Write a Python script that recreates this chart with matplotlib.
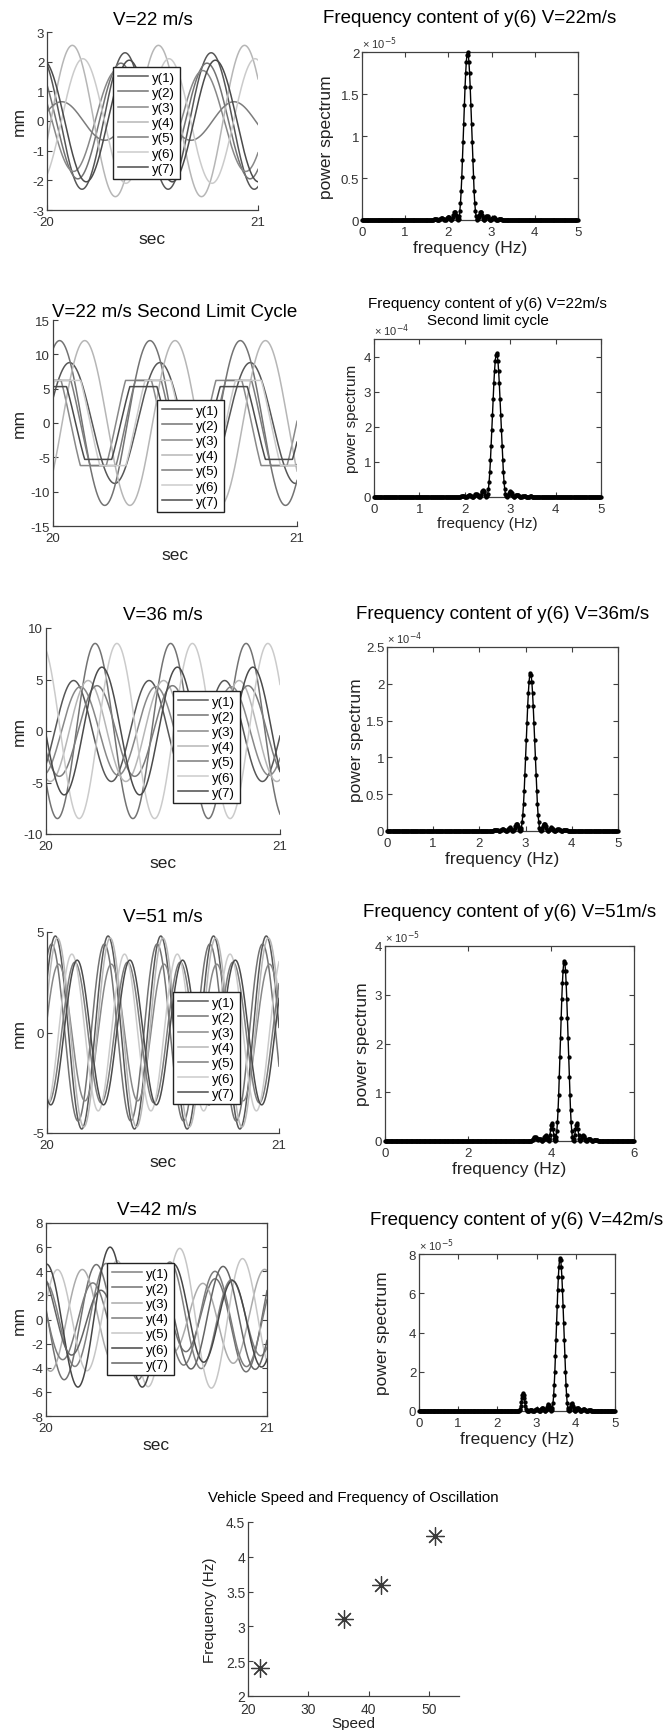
import numpy as np
import matplotlib
matplotlib.use("Agg")
import matplotlib.pyplot as plt
from matplotlib.ticker import FuncFormatter

plt.rcParams['font.family'] = ['Liberation Sans', 'DejaVu Sans']
plt.rcParams['axes.unicode_minus'] = False

W, H = 664, 1731

# ---- time histories y(1)..y(7), 20 s to 21 s ----
series_names = ['y(1)', 'y(2)', 'y(3)', 'y(4)', 'y(5)', 'y(6)', 'y(7)']
wave_titles = ['V=22 m/s', 'V=22 m/s Second Limit Cycle', 'V=36 m/s', 'V=51 m/s', 'V=42 m/s']
wave_freq = [2.45, 2.7, 3.1, 4.4, 3.6]          # Hz
wave_ylim = [3, 15, 10, 5, 8]
wave_yticks = [np.arange(-3, 4, 1), np.arange(-15, 16, 5), np.arange(-10, 11, 5),
               np.arange(-5, 6, 5), np.arange(-8, 9, 2)]

# amplitude (mm) and time of first peak (s) for each response
amp_22 = [2.3, 1.95, 1.7, 2.55, 0.65, 2.1, 2.05]
tpk_22 = [20.37, 20.35, 20.33, 20.12, 20.07, 20.17, 20.39]
amp_22b = [8.8, 12.0, 10.0, 12.0, 10.0, 10.0, 9.0]
tpk_22b = [20.068, 20.027, 19.98, 20.13, 20.02, 20.06, 20.0]
clip_22b = [99, 99, 6.2, 99, 6.2, 6.2, 5.3]
amp_36 = [4.9, 8.5, 4.3, 4.9, 4.4, 8.5, 6.2]
tpk_36 = [20.118, 20.21, 20.147, 20.18, 20.218, 20.303, 20.239]
amp_51 = [4.8, 4.4, 3.4, 4.7, 3.5, 3.9, 3.6]
tpk_51 = [20.036, 20.02, 20.05, 20.045, 20.12, 20.107, 20.13]
# V=42 has a second component near 2.65 Hz
amp_42 = [4.0, 3.8, 3.5, 3.5, 5.0, 4.6, 3.4]
tpk_42 = [20.0, 20.22, 20.16, 20.21, 20.05, 20.29, 20.246]
amp_42b = [1.0, 1.2, 0.8, 0.5, 0.9, 1.4, 1.0]
tpk_42b = [20.6, 19.9, 20.2, 20.0, 20.6, 20.29, 20.8]
freq_42b = 2.65

grey_std = ['#575757', '#737373', '#888888', '#b6b6b6', '#7c7c7c', '#cbcbcb', '#4b4b4b']
grey_42 = ['#808080', '#727272', '#ababab', '#7c7c7c', '#c6c6c6', '#464646', '#646464']

# ---- power spectra of y(6) ----
spec_titles = ['Frequency content of y(6) V=22m/s',
               'Frequency content of y(6) V=22m/s\nSecond limit cycle',
               'Frequency content of y(6) V=36m/s',
               'Frequency content of y(6) V=51m/s',
               'Frequency content of y(6) V=42m/s']
df = 0.015                                       # frequency resolution, Hz
spec_xmax = [5, 5, 5, 6, 5]
spec_exp = [-5, -4, -4, -5, -5]
spec_ylim = [2.0, 4.5, 2.5, 4.0, 8.0]
spec_yticks = [[0, 0.5, 1, 1.5, 2], [0, 1, 2, 3, 4], [0, 0.5, 1, 1.5, 2, 2.5],
               [0, 1, 2, 3, 4], [0, 2, 4, 6, 8]]
spec_xticks = [[0, 1, 2, 3, 4, 5]] * 3 + [[0, 2, 4, 6], [0, 1, 2, 3, 4, 5]]
peak_f = [2.45, 2.70, 3.10, 4.32, 3.60]
peak_p = [2.0, 4.1, 2.15, 3.7, 7.8]
side_off = [0.30, 0.45, 0.60, 0.75]
side_left = [[0.10, 0.04, 0.025, 0.015], [0.20, 0.08, 0.05, 0.03], [0.10, 0.05, 0.03, 0.02],
             [0.37, 0.12, 0.05, 0.02], [0.35, 0.15, 0.10, 0.05]]
side_right = [[0.10, 0.05, 0.03, 0.015], [0.17, 0.07, 0.04, 0.02], [0.10, 0.05, 0.03, 0.02],
              [0.37, 0.12, 0.05, 0.03], [0.40, 0.15, 0.10, 0.05]]
extra_f = [0, 0, 0, 3.62, 2.65]
extra_p = [0, 0, 0, 0.08, 0.9]
lobe_half = [1.0, 0.985, 0.943, 0.875, 0.789, 0.684, 0.573, 0.463, 0.357, 0.255,
             0.171, 0.103, 0.055, 0.022, 0.005, 0.0]
bump_half = [1.0, 0.9, 0.65, 0.35, 0.1]
extra_half = [1.0, 0.93, 0.75, 0.5, 0.28, 0.12, 0.03, 0.0]

# ---- speed vs oscillation frequency ----
speed = [22, 36, 42, 51]
osc_freq = [2.4, 3.1, 3.6, 4.3]

# axes boxes in pixels: left, top, right, bottom
wave_boxes = [(47, 33, 258, 211), (53, 321, 297, 527), (46, 629, 280, 835),
              (47, 933, 279, 1134), (46, 1224, 267, 1417)]
wave_title_y = [25, 317, 620, 922, 1215]
legend_xy = [(113, 68), (157, 401), (173, 692), (173, 993), (107, 1264)]
spec_boxes = [(362, 53, 578, 221), (374, 340, 601, 498), (387, 648, 618, 832),
              (385, 947, 634, 1142), (419, 1255, 615, 1412)]
spec_title_y = [23, 308, 619, 917, 1225]
spec_ylab_x = [327, 352, 357, 362, 382]
scatter_box = (248, 1523, 459, 1697)

fig = plt.figure(figsize=(W / 100, H / 100), dpi=100)


def rect(box):
    l, t, r, b = box
    return [l / W, 1 - b / H, (r - l) / W, (b - t) / H]


def ftext(x, y, s, **kw):
    fig.text(x / W, 1 - y / H, s, **kw)


def style(ax, box_on):
    for side in ['top', 'right']:
        ax.spines[side].set_visible(box_on)
    for sp in ax.spines.values():
        sp.set_color('#404040')
        sp.set_linewidth(0.9)
    ax.tick_params(direction='in', length=3.5, width=0.8, color='#404040',
                   labelcolor='#333333', labelsize=9.5, pad=2,
                   top=box_on, right=box_on)
    ax.tick_params(axis='x', pad=4)
    ax.xaxis.set_major_formatter(FuncFormatter(lambda v, p: '%g' % v))
    ax.yaxis.set_major_formatter(FuncFormatter(lambda v, p: '%g' % v))


t = np.linspace(20, 21, 1201)
wave_sets = [(amp_22, tpk_22, None), (amp_22b, tpk_22b, clip_22b), (amp_36, tpk_36, None),
             (amp_51, tpk_51, None), (amp_42, tpk_42, None)]

for i, box in enumerate(wave_boxes):
    ax = fig.add_axes(rect(box))
    amps, tpks, clips = wave_sets[i]
    greys = grey_42 if i == 4 else grey_std
    for k in range(7):
        y = amps[k] * np.cos(2 * np.pi * wave_freq[i] * (t - tpks[k]))
        if i == 4:
            y = y + amp_42b[k] * np.cos(2 * np.pi * freq_42b * (t - tpk_42b[k]))
        if clips is not None:
            y = np.clip(y, -clips[k], clips[k])
        ax.plot(t, y, color=greys[k], lw=1.1, label=series_names[k])
    ax.set_xlim(20, 21)
    ax.set_ylim(-wave_ylim[i], wave_ylim[i])
    ax.set_xticks([20, 21])
    ax.set_yticks(wave_yticks[i])
    style(ax, i == 4)
    lx, ly = legend_xy[i]
    ax.legend(loc='upper left', bbox_to_anchor=(lx / W, 1 - ly / H),
              bbox_transform=fig.transFigure, borderaxespad=0, fontsize=9.5,
              labelspacing=0.22, handlelength=2.3, handletextpad=0.3,
              borderpad=0.35, fancybox=False, framealpha=1, edgecolor='#222222')
    l, tp, r, b = box
    cx = (l + r) / 2
    ftext(cx, wave_title_y[i], wave_titles[i], ha='center', va='baseline', fontsize=13.5)
    ftext(cx, b + 33, 'sec', ha='center', va='baseline', fontsize=12.5, color='#222222')
    ftext(19, (tp + b) / 2, 'mm', ha='center', va='center', rotation=90,
          fontsize=12.5, color='#222222')


def add_shape(p, center, height, half):
    c = int(round(center / df))
    for k, v in enumerate(half):
        for idx in (c - k, c + k):
            if 0 <= idx < len(p):
                p[idx] = max(p[idx], height * v)


for i, box in enumerate(spec_boxes):
    ax = fig.add_axes(rect(box))
    scale = 10.0 ** spec_exp[i]
    f = np.arange(0, spec_xmax[i] + df / 2, df)
    p = np.zeros_like(f)
    add_shape(p, peak_f[i], peak_p[i], lobe_half)
    for off, hl, hr in zip(side_off, side_left[i], side_right[i]):
        add_shape(p, peak_f[i] - off, hl, bump_half)
        add_shape(p, peak_f[i] + off, hr, bump_half)
    if extra_p[i] > 0:
        add_shape(p, extra_f[i], extra_p[i], extra_half)
    ax.plot(f, p * scale, color='black', lw=1.0, marker='.', ms=4.2, clip_on=False, zorder=3)
    ax.set_xlim(0, spec_xmax[i])
    ax.set_ylim(0, spec_ylim[i] * scale)
    ax.set_xticks(spec_xticks[i])
    ax.set_yticks(np.array(spec_yticks[i]) * scale)
    style(ax, True)
    ax.yaxis.set_major_formatter(FuncFormatter(lambda v, pos, s=scale: '%g' % round(v / s, 6)))
    l, tp, r, b = box
    cx = (l + r) / 2
    small = (i == 1)
    if small:
        ftext(cx, spec_title_y[i], 'Frequency content of y(6) V=22m/s', ha='center',
              va='baseline', fontsize=11)
        ftext(cx, spec_title_y[i] + 17, 'Second limit cycle', ha='center',
              va='baseline', fontsize=11)
    else:
        ftext(cx, spec_title_y[i], spec_titles[i], ha='center', va='baseline', fontsize=13.5)
    ftext(l, tp - 4, '\u00d7 10$^{%d}$' % spec_exp[i], ha='left', va='baseline',
          fontsize=8, color='#333333')
    ftext(cx, b + (30 if small else 32), 'frequency (Hz)', ha='center', va='baseline',
          fontsize=11 if small else 12.5, color='#222222')
    ftext(spec_ylab_x[i], (tp + b) / 2, 'power spectrum', ha='center', va='center',
          rotation=90, fontsize=11 if small else 12.5, color='#222222')

# speed vs frequency
ax = fig.add_axes(rect(scatter_box))
ax.plot(speed, osc_freq, linestyle='none', marker=(8, 2, 0), ms=13, mew=0.9,
        color='#3a3a3a')
ax.set_xlim(20, 55)
ax.set_ylim(2, 4.5)
ax.set_xticks([20, 30, 40, 50])
ax.set_yticks([2, 2.5, 3, 3.5, 4, 4.5])
style(ax, False)
ax.tick_params(labelsize=10)
l, tp, r, b = scatter_box
ftext((l + r) / 2, 1502, 'Vehicle Speed and Frequency of Oscillation', ha='center',
      va='baseline', fontsize=10.8)
ftext((l + r) / 2, 1728, 'Speed', ha='center', va='baseline', fontsize=11, color='#222222')
ftext(210, (tp + b) / 2, 'Frequency (Hz)', ha='center', va='center', rotation=90,
      fontsize=11, color='#222222')

fig.savefig('out.png', dpi=100)
